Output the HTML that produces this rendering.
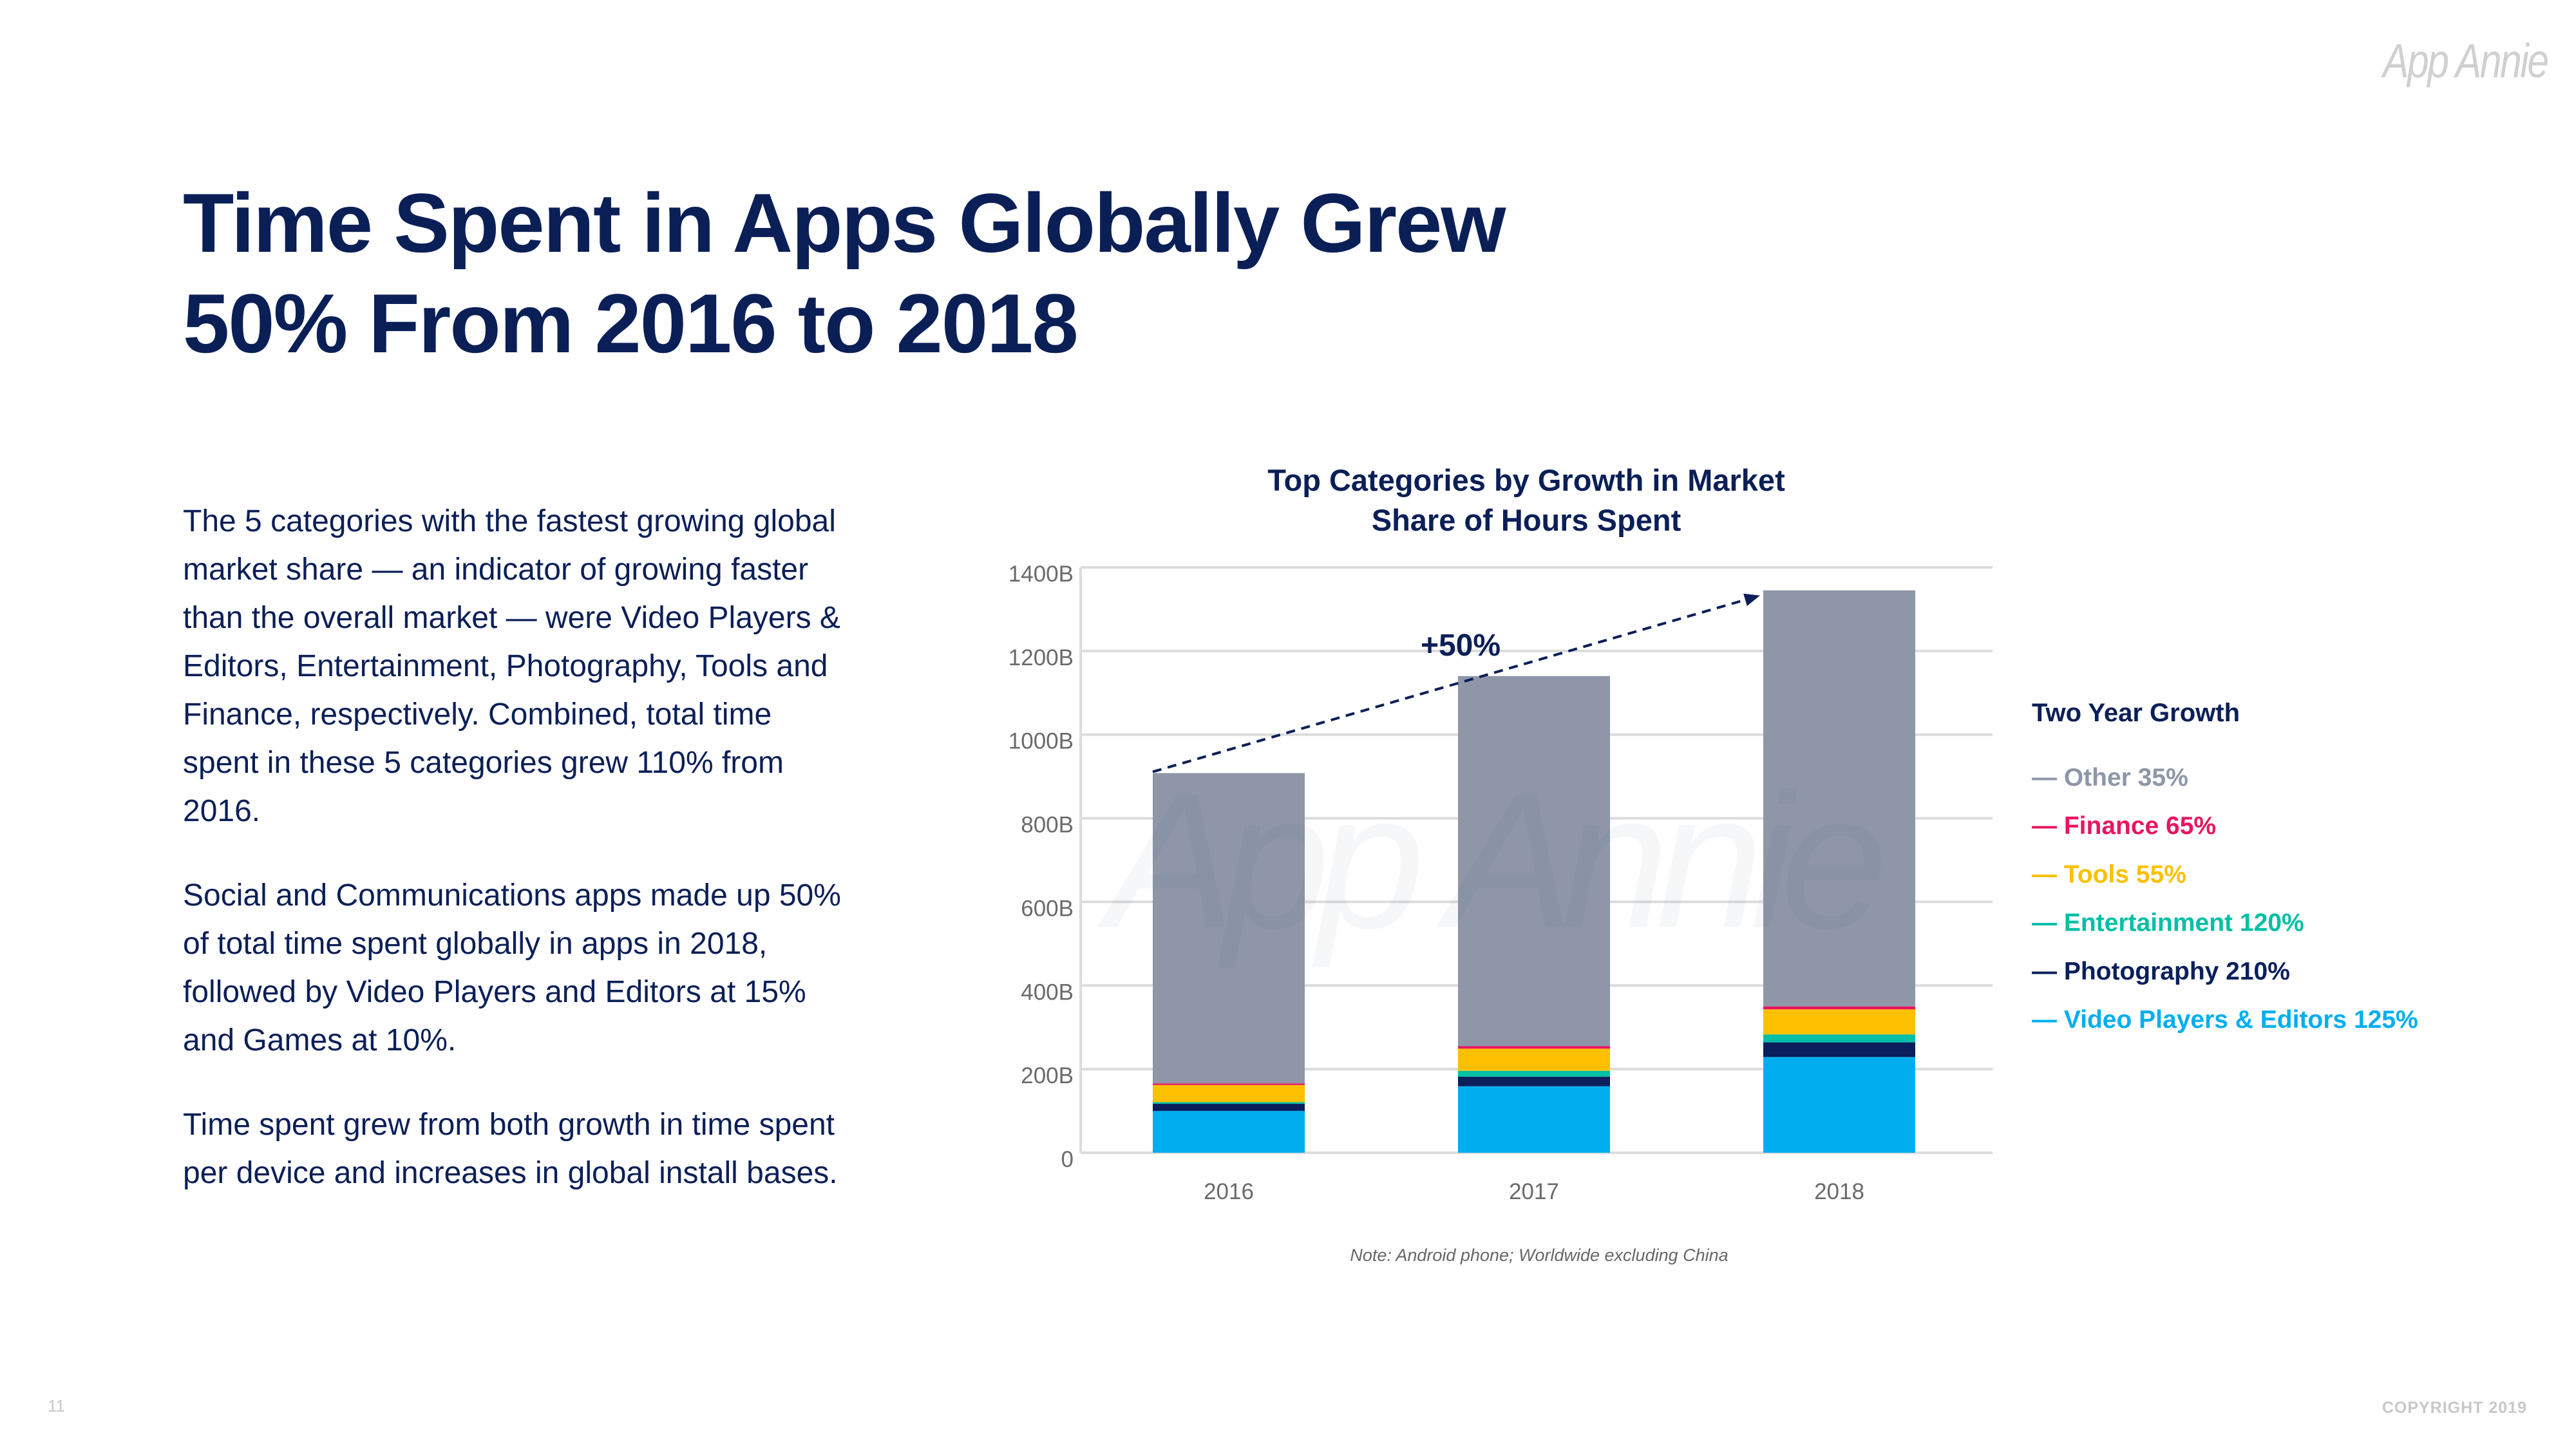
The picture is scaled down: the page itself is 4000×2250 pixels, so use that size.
<!DOCTYPE html>
<html><head><meta charset="utf-8">
<style>
html,body{margin:0;padding:0;background:#fff;}
body{width:4000px;height:2250px;position:relative;overflow:hidden;font-family:"Liberation Sans",sans-serif;}
.abs{position:absolute;white-space:nowrap;}
#title{left:284px;top:268px;font-size:130px;font-weight:bold;color:#0b1f57;line-height:156px;letter-spacing:-2px;}
#para{left:284px;top:772px;font-size:48px;color:#0b1f57;line-height:75px;}
#para p{margin:0 0 56px 0;}
</style></head>
<body>
<div class="abs" style="left:3700px;top:52px;font-size:74px;font-style:italic;color:#d0d0d0;letter-spacing:-3px;transform:scaleX(0.82);transform-origin:left;">App Annie</div>
<div id="title" class="abs">Time Spent in Apps Globally Grew<br>50% From 2016 to 2018</div>
<div id="para" class="abs">
<p>The 5 categories with the fastest growing global<br>market share — an indicator of growing faster<br>than the overall market — were Video Players &amp;<br>Editors, Entertainment, Photography, Tools and<br>Finance, respectively. Combined, total time<br>spent in these 5 categories grew 110% from<br>2016.</p>
<p>Social and Communications apps made up 50%<br>of total time spent globally in apps in 2018,<br>followed by Video Players and Editors at 15%<br>and Games at 10%.</p>
<p>Time spent grew from both growth in time spent<br>per device and increases in global install bases.</p>
</div>
<svg id="chart" width="4000" height="2250" style="position:absolute;left:0;top:0;" xmlns="http://www.w3.org/2000/svg"></svg>
<div class="abs" style="left:74px;top:2168px;font-size:26px;color:#c8c8c8;">11</div>
<div class="abs" style="right:76px;top:2172px;font-size:25px;font-weight:bold;color:#c8c8c8;letter-spacing:1px;">COPYRIGHT 2019</div>
<script>
const years = ["2016","2017","2018"];
const seriesNames = ["Video Players & Editors","Photography","Entertainment","Tools","Finance","Other"];
const video = [100,159,229];
const photo = [17,23,35];
const ent = [4,14,19];
const tools = [41,53,60];
const finance = [4,6,7];
const other = [742,885,995];
const yTicks = [0,200,400,600,800,1000,1200,1400];
const yTickLabels = ["0","200B","400B","600B","800B","1000B","1200B","1400B"];
const legendLabels = ["Other 35%","Finance 65%","Tools 55%","Entertainment 120%","Photography 210%","Video Players & Editors 125%"];

const colors = ["#00aeef","#0a1f5c","#00bfa5","#fcc000","#e8155f","#8e96a8"];
const legendColors = ["#8e96a8","#e8155f","#fcc000","#00bfa5","#0a1f5c","#00aeef"];
const NS="http://www.w3.org/2000/svg";
const svg=document.getElementById('chart');
const x0=1678,x1=3094,yZero=1790,yTop=881,yMax=1400;
const yS=v=>yZero-(v/yMax)*(yZero-yTop);
const band=(x1-x0)/years.length;
const barW=236;
const xC=i=>x0+band*(i+0.5)+(i-1)*2-4;
function mk(tag,attrs){const e=document.createElementNS(NS,tag);for(const k in attrs)e.setAttribute(k,attrs[k]);svg.appendChild(e);return e;}
function txt(s,attrs){const e=mk('text',attrs);e.textContent=s;return e;}

let t=txt("Top Categories by Growth in Market",{x:2370,y:762,'text-anchor':'middle','font-size':47,'font-weight':'bold',fill:'#0b1f57','font-family':'Liberation Sans'});


t=txt("Share of Hours Spent",{x:2370,y:824,'text-anchor':'middle','font-size':47,'font-weight':'bold',fill:'#0b1f57','font-family':'Liberation Sans'});



yTicks.forEach((v,i)=>{
  const g=mk('line',{x1:x0,x2:x1,y1:yS(v),y2:yS(v),stroke:'#dcdcdc','stroke-width':4});
  
  
  const l=txt(yTickLabels[i],{x:1667,y:yS(v)+22,'text-anchor':'end','font-size':35,fill:'#6a6a6a','font-family':'Liberation Sans'});
  
  
});
const ax=mk('line',{x1:x0,x2:x0,y1:yTop,y2:yZero,stroke:'#dcdcdc','stroke-width':4});



const series=[video,photo,ent,tools,finance,other];
years.forEach((yr,i)=>{
  let base=0;
  series.forEach((s,k)=>{
    const r=mk('rect',{x:xC(i)-barW/2,y:yS(base+s[i]),width:barW,height:yS(base)-yS(base+s[i]),fill:colors[k]});
    
    
    base+=s[i];
  });
  const l=txt(yr,{x:xC(i),y:1862,'text-anchor':'middle','font-size':35,fill:'#6a6a6a','font-family':'Liberation Sans'});
  
  
});

// watermark
const wm=txt("App Annie",{x:2315,y:1440,'text-anchor':'middle','font-size':300,'font-style':'italic',fill:'#556070','fill-opacity':0.05,'font-family':'Liberation Sans','letter-spacing':-20});



// growth arrow
const tot=i=>series.reduce((a,s)=>a+s[i],0);
const ax1=xC(0)-barW/2, ay1=yS(tot(0))-2, ax2=xC(2)-barW/2-5, ay2=yS(tot(2))+8;
const ln=mk('line',{x1:ax1,y1:ay1,x2:ax2,y2:ay2,stroke:'#0b1f57','stroke-width':4,'stroke-dasharray':'14 10'});


const ang=Math.atan2(ay2-ay1,ax2-ax1);
const hx=ax2,hy=ay2,L=24,W=10;
const p=[[hx,hy],[hx-L*Math.cos(ang)+W*Math.sin(ang),hy-L*Math.sin(ang)-W*Math.cos(ang)],[hx-L*Math.cos(ang)-W*Math.sin(ang),hy-L*Math.sin(ang)+W*Math.cos(ang)]];
const ah=mk('polygon',{points:p.map(q=>q.join(',')).join(' '),fill:'#0b1f57'});


const g50=txt("+50%",{x:2268,y:1018,'text-anchor':'middle','font-size':48,'font-weight':'bold',fill:'#0b1f57','font-family':'Liberation Sans'});



// legend
const lt=txt("Two Year Growth",{x:3155,y:1120,'font-size':40,'font-weight':'bold',fill:'#0b1f57','font-family':'Liberation Sans'});


legendLabels.forEach((s,k)=>{
  const e=txt("— "+s,{x:3155,y:1220+k*75.2,'font-size':39,'font-weight':'bold',fill:legendColors[k],'font-family':'Liberation Sans'});
  
  
});

const nt=txt("Note: Android phone; Worldwide excluding China",{x:2390,y:1958,'text-anchor':'middle','font-size':27,'font-style':'italic',fill:'#666','font-family':'Liberation Sans'});


</script>
</body></html>
